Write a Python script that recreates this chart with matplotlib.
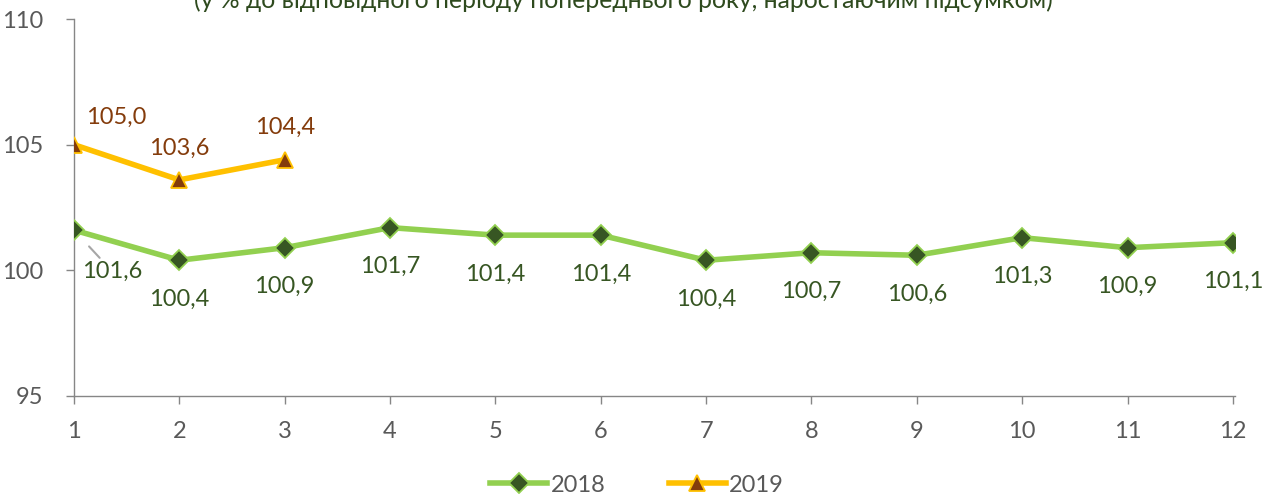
#!/usr/bin/env python3
import matplotlib
matplotlib.use("Agg")
import matplotlib.pyplot as plt
from matplotlib.lines import Line2D

plt.rcParams['font.family'] = ['Lato', 'Noto Sans', 'DejaVu Sans']

months = [1, 2, 3, 4, 5, 6, 7, 8, 9, 10, 11, 12]
vals_2018 = [101.6, 100.4, 100.9, 101.7, 101.4, 101.4, 100.4, 100.7, 100.6, 101.3, 100.9, 101.1]
months_2019 = [1, 2, 3]
vals_2019 = [105.0, 103.6, 104.4]
title = "(у % до відповідного періоду попереднього року, наростаючим підсумком)"

c18_line = "#92D050"
c18_mark = "#375623"
c19_line = "#FFC000"
c19_mark = "#843C0C"
gray = "#595959"
fs = 17

fig = plt.figure(figsize=(12.62, 4.94), dpi=100)
ax = fig.add_axes([0.0586, 0.1984, 0.92, 0.7631])

ax.plot(months, vals_2018, color=c18_line, lw=4, marker="D", ms=10.5,
        mfc=c18_mark, mec=c18_line, mew=1.3, zorder=3, label="2018")
ax.plot(months_2019, vals_2019, color=c19_line, lw=4, marker="^", ms=12,
        mfc=c19_mark, mec=c19_line, mew=1.3, zorder=3, label="2019")

# data labels
for i, (m, v) in enumerate(zip(months, vals_2018)):
    txt = f"{v:.1f}".replace(".", ",")
    if i == 0:
        ax.annotate(txt, (m, v), xytext=(38, -41), textcoords="offset pixels",
                    ha="center", va="center", fontsize=fs, color=c18_mark,
                    arrowprops=dict(arrowstyle="-", color="#A6A6A6", lw=1.5,
                                    shrinkA=0, shrinkB=16))
    else:
        ax.annotate(txt, (m, v), xytext=(0, -39), textcoords="offset pixels",
                    ha="center", va="center", fontsize=fs, color=c18_mark)

offs19 = [(42, 27), (0, 32), (0, 32)]
for (m, v), (dx, dy) in zip(zip(months_2019, vals_2019), offs19):
    txt = f"{v:.1f}".replace(".", ",")
    ax.annotate(txt, (m, v), xytext=(dx, dy), textcoords="offset pixels",
                ha="center", va="center", fontsize=fs, color=c19_mark)

ax.set_xlim(1, 12.02)
ax.set_ylim(95, 110)
ax.set_yticks([95, 100, 105, 110])
ax.set_xticks(months)
for s in ["top", "right"]:
    ax.spines[s].set_visible(False)
for s in ["left", "bottom"]:
    ax.spines[s].set_color("#868686")
    ax.spines[s].set_linewidth(1.0)
ax.tick_params(axis="both", colors="#868686", labelcolor=gray, labelsize=fs, length=6, width=1.0)
ax.tick_params(axis="x", pad=12)
ax.tick_params(axis="y", pad=16)

fig.text(0.494, 1.0, title, ha="center", va="center", fontsize=17.8, color="#2E4A1E")

handles = [
    Line2D([], [], color=c18_line, lw=4, marker="D", ms=10.5, mfc=c18_mark, mec=c18_line, mew=1.3),
    Line2D([], [], color=c19_line, lw=4, marker="^", ms=12, mfc=c19_mark, mec=c19_line, mew=1.3),
]
fig.legend(handles, ["2018", "2019"], loc="center", bbox_to_anchor=(0.505, 0.018), ncol=2,
           frameon=False, fontsize=fs, labelcolor=gray, handlelength=2.4,
           columnspacing=2.7, handletextpad=0.15)

plt.savefig("out.png", dpi=100)
